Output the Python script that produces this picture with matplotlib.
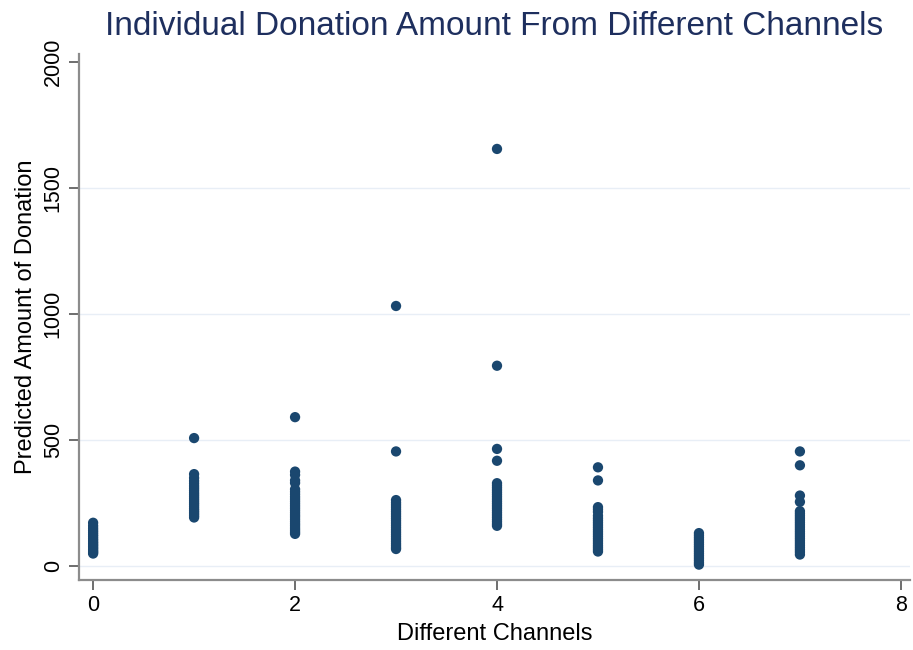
import matplotlib
matplotlib.use("Agg")
import matplotlib.pyplot as plt

# Predicted donation amounts per channel
channel_0 = [172, 160, 150, 141, 133, 125, 118, 110, 103, 96, 90, 84, 78, 72, 66, 60, 55, 50]
channel_1 = [508, 365, 350, 338, 328, 318, 309, 300, 291, 283, 275, 267, 259, 251, 244,
             236, 228, 221, 214, 207, 200, 193]
channel_2 = [591, 375, 362, 340, 330, 305, 295, 285, 275, 266, 257, 248, 239, 230, 221,
             212, 203, 195, 186, 177, 168, 160, 151, 143, 135, 128]
channel_3 = [1032, 455, 262, 252, 243, 234, 225, 216, 207, 198, 189, 180, 171, 162, 153,
             144, 135, 126, 117, 108, 99, 90, 82, 74, 68]
channel_4 = [1655, 795, 465, 418, 329, 320, 311, 302, 293, 284, 275, 266, 257, 248, 239,
             230, 221, 212, 203, 194, 185, 176, 167, 160]
channel_5 = [392, 340, 234, 225, 215, 200, 190, 181, 172, 163, 154, 145, 136, 127, 118,
             109, 100, 91, 82, 74, 66, 58]
channel_6 = [131, 122, 113, 104, 95, 86, 77, 68, 59, 50, 41, 32, 23, 14, 6]
channel_7 = [455, 400, 280, 255, 218, 209, 200, 191, 182, 173, 164, 155, 146, 137, 128,
             119, 110, 101, 92, 83, 74, 65, 56, 46]

channels = [0, 1, 2, 3, 4, 5, 6, 7]
amounts = [channel_0, channel_1, channel_2, channel_3,
           channel_4, channel_5, channel_6, channel_7]

x_ticks = [0, 2, 4, 6, 8]
y_ticks = [0, 500, 1000, 1500, 2000]

plt.rcParams["font.family"] = ["Liberation Sans", "DejaVu Sans"]

fig = plt.figure(figsize=(9.13, 6.5), dpi=100)
ax = fig.add_axes([0.0865, 0.1077, 0.9102, 0.8086])

for ch, vals in zip(channels, amounts):
    ax.scatter([ch] * len(vals), vals, s=55, color="#1a476f", edgecolors="none", zorder=3)

ax.set_xlim(-0.14, 8.09)
ax.set_ylim(-55, 2030)
ax.set_xticks(x_ticks)
ax.set_yticks(y_ticks)
ax.set_yticklabels([str(v) for v in y_ticks], rotation=90, va="center")

for v in y_ticks[:-1]:
    ax.axhline(v, color="#e8eef6", lw=1, zorder=1)

for side in ["top", "right"]:
    ax.spines[side].set_visible(False)
for side in ["left", "bottom"]:
    ax.spines[side].set_color("#8c8c8c")
    ax.spines[side].set_linewidth(1.6)

ax.tick_params(axis="both", colors="#555555", length=7, width=1.2, labelsize=15.5,
               labelcolor="black")
ax.tick_params(axis="y", pad=4)

ax.set_xlabel("Different Channels", fontsize=17, labelpad=5)
ax.set_ylabel("Predicted Amount of Donation", fontsize=17, labelpad=4)
ax.set_title("Individual Donation Amount From Different Channels",
             fontsize=24, color="#1e2f5e", pad=14)

fig.savefig("out.png", dpi=100)
